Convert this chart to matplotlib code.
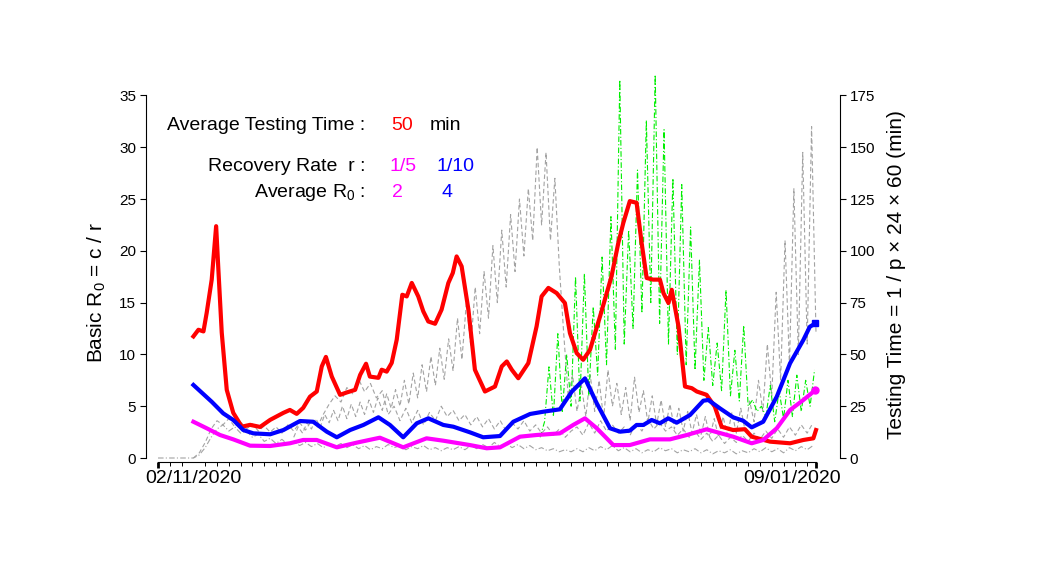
import numpy as np
import matplotlib
matplotlib.use('Agg')
import matplotlib.pyplot as plt

plt.rcParams['font.family'] = ['Liberation Sans', 'DejaVu Sans']
plt.rcParams['mathtext.fontset'] = 'custom'
plt.rcParams['mathtext.rm'] = 'Liberation Sans'
plt.rcParams['mathtext.it'] = 'Liberation Sans:italic'

# x axis = days since 01/30/2020 (02/11/2020 = day 12, 09/01/2020 = day 215)
date_days = [12, 215]
date_labels = ['02/11/2020', '09/01/2020']

# testing time of single regions (minutes), thin grey / green lines
gray_a_start, gray_a_step = 0, 2
gray_a = [0, 0, 0, 0, 0, 0, 0, 1.5,
          5, 10, 14, 16, 13, 15, 12, 13,
          10, 11.5, 8, 9.5, 7, 9, 6.5, 8, 6, 7.5, 5.5, 7, 5, 6.5, 5.5,
          7, 5, 6.5, 4.5, 6, 4, 5.5, 4.5, 6.5, 5, 6, 4, 5.5, 4.5, 6, 4, 5, 3.5, 5, 4,
          5.5, 4, 6, 4.5, 6.5, 5, 7.5, 5.5, 7, 5, 6.5, 4.5, 6, 4, 5, 3.5, 4.5, 3, 4, 3,
          4.5, 3, 5, 3.5, 5.5, 4, 6, 3.5, 5, 3, 4.5, 2.5, 4, 3, 5, 3.5, 4.5, 2.5, 4, 3,
          4.5, 2.5, 4, 2, 3.5, 2.5, 4, 2, 3.5, 2.5, 4.5, 3, 5, 3, 4.5, 2.5, 5, 3.5, 5.5, 4, 6]

gray_b_start, gray_b_step = 12, 2
gray_b = [0, 2.5, 7.5, 14, 18, 16,
          19, 15, 17.5, 14, 16.5, 13, 15.5, 12.5, 15, 12, 16, 13, 17, 13.5, 18, 15,
          21, 26, 30, 27, 34, 31, 38, 32, 36, 29, 32.5,
          21, 25, 18, 24, 17, 23, 16, 22, 18, 25, 20,
          23, 18, 21, 16, 20, 15, 19, 14, 18, 13, 17, 14, 18, 13, 16, 12, 15, 11, 14, 10, 13,
          15, 11, 17, 12, 18, 13, 16, 12, 15, 11, 17, 13, 19, 14, 17, 13, 15, 11, 14, 10,
          13, 9, 12, 8, 11, 7, 10, 7.5, 11, 8, 12, 9, 13, 9.5, 14, 10, 15, 11, 16, 12, 17]

gray_c_start, gray_c_step = 46, 1.5
gray_c = [10, 15, 12, 17, 14, 19, 15, 21, 17, 23, 18, 25, 19, 26, 20, 27, 21, 28, 22, 29, 23, 31, 24, 33, 25,
          37.5, 26, 41, 29, 45, 32, 49, 35, 53, 38, 57.5, 42,
          67.5, 47.5, 75, 54, 82.5, 60, 90,
          67.5, 102.5, 75, 110, 82.5, 117.5,
          90, 125, 97.5, 130, 105,
          150, 112.5, 147.5, 105, 135, 92.5,
          60, 30, 40, 22.5,
          35, 20, 40, 22.5, 37.5, 19, 42.5, 25, 36, 21, 34, 18, 39, 22, 32.5, 17, 30, 16, 28, 15,
          26, 14, 24, 13, 22.5, 12, 21, 11, 20, 10, 19, 10, 20, 11, 22, 12, 24, 13,
          27.5, 17.5, 37.5, 22.5, 55, 30, 80, 37.5, 105, 45, 130, 50, 147.5, 55, 160, 60]

green_start, green_step = 129.5, 1.5
green = [10, 17.5, 44, 20, 60, 22.5, 50, 25, 87.5, 27.5, 89, 30, 73, 40, 97, 45,
         116.5, 52.5, 182.5, 55, 110, 62.5, 139, 70, 163, 75, 185, 65, 158.5, 55,
         135, 50, 132, 45, 111.5, 42.5, 95.5, 37.5, 63, 35, 55.5, 32.5, 81, 30,
         52, 27.5, 64, 25, 28, 22.5, 25, 20, 35, 17.5, 32.5, 19, 37.5, 20, 40, 22.5,
         37.5, 25, 42.5]

# average testing time (minutes), red
red_days = [12.0, 13.7, 15.4, 16.5, 18.2, 19.7, 20.4, 21.6, 23.3, 25.5, 28.4, 31.2, 34.6,
            38.0, 42.5, 44.7, 47.0, 49.2, 51.5, 53.8, 55.5, 56.9, 58.9, 61.7, 63.9, 66.8,
            68.5, 70.5, 71.8, 74.7, 75.8, 77.5, 79.2, 80.9, 82.8, 84.3, 86.0, 88.2, 89.9,
            91.6, 93.9, 96.1, 98.4, 99.9, 101.2, 102.9, 105.2, 107.4, 110.8, 114.2, 116.5,
            118.2, 119.9, 122.1, 125.5, 128.3, 130.0, 132.3, 135.1, 137.9, 139.6, 141.9,
            144.1, 146.4, 149.8, 153.7, 156.0, 157.7, 159.9, 162.2, 163.9, 165.6, 167.8,
            170.1, 171.3, 173.0, 174.1, 176.4, 178.6, 180.9, 182.6, 185.9, 188.7, 191.0,
            194.9, 198.9, 201.2, 207.4, 214.2, 218.7, 222.1, 223.0]
red_min = [58.7, 61.9, 61.1, 70.1, 86.1, 111.9, 92.5, 60.5, 32.9, 21.8, 15.1, 16.0, 15.0,
           18.4, 21.8, 23.2, 21.3, 24.2, 29.6, 32.1, 44.2, 48.8, 39.3, 30.5, 31.6, 32.9,
           40.1, 45.5, 39.3, 38.7, 42.6, 41.7, 45.9, 57.1, 78.8, 78.0, 84.5, 78.0, 70.8,
           65.9, 64.8, 71.6, 84.5, 89.3, 97.3, 92.5, 71.6, 42.6, 32.1, 34.5, 44.2,
           46.6, 42.6, 38.5, 45.8, 63.5, 78.0, 82.1, 79.6, 74.8, 60.3, 50.6,
           47.4, 52.2, 68.3, 87.7, 103.8, 113.5, 124.0, 123.2, 103.8, 86.9, 86.1,
           86.1, 79.6, 74.8, 81.2, 63.5, 34.5, 33.7, 32.1, 30.5, 24.8, 15.1,
           13.5, 13.9, 10.3, 7.9, 7.1, 8.7, 9.5, 13.5]

# basic R0 for r = 1/10 (blue) and r = 1/5 (magenta)
blue_days = [12.0, 18.2, 22.1, 25.5, 28.9, 32.3, 38.0, 42.5, 48.1, 52.6, 57.2, 60.6, 65.1,
             69.6, 74.7, 78.6, 83.1, 87.7, 91.6, 96.7, 100.1, 105.7, 110.2, 115.9, 120.4,
             126.1, 130.6, 136.2, 140.2, 144.7, 148.7, 153.2, 156.6, 159.9, 162.2, 164.5,
             167.3, 170.1, 172.9, 175.8, 180.3, 184.8, 186.5, 190.4, 194.9, 198.3, 201.2,
             205.1, 209.7, 214.2, 218.7, 220.9, 222.8]
blue_r0 = [7.05, 5.43, 4.31, 3.67, 2.70, 2.38, 2.29, 2.70, 3.57, 3.50, 2.54, 2.0, 2.70,
           3.19, 3.93, 3.19, 2.0, 3.35, 3.83, 3.19, 3.02, 2.48, 2.0, 2.12, 3.50,
           4.25, 4.47, 4.70, 6.40, 7.69, 5.28, 2.87, 2.54, 2.64, 3.19, 3.19,
           3.67, 3.35, 3.83, 3.41, 4.15, 5.53, 5.60, 4.80, 3.93, 3.60, 2.96,
           3.50, 5.92, 9.14, 11.39, 12.67, 13.0]

magenta_days = [12.0, 16.5, 21.0, 25.5, 31.2, 38.0, 44.7, 49.2, 53.8, 60.6, 67.3, 75.2,
                83.1, 91.0, 96.7, 105.7, 111.4, 115.9, 122.7, 128.3, 136.2, 140.7, 144.7,
                148.7, 154.3, 159.9, 166.7, 173.5, 179.2, 185.9, 194.9, 201.2, 205.1,
                209.7, 214.2, 218.7, 222.8]
magenta_r0 = [3.50, 2.87, 2.22, 1.80, 1.19, 1.16, 1.42, 1.74, 1.74, 1.03, 1.48, 1.96,
              1.03, 1.90, 1.67, 1.25, 0.94, 1.03, 2.06, 2.22, 2.38, 3.19, 3.83,
              2.87, 1.25, 1.25, 1.80, 1.80, 2.22, 2.77, 2.06, 1.42, 1.74,
              2.87, 4.63, 5.60, 6.56]


def series_days(start, step, values):
    return start + step * np.arange(len(values))


W, H = 1042, 574
fig = plt.figure(figsize=(W / 100, H / 100), dpi=100)
ax = fig.add_axes([146 / W, 1 - 462 / H, (840 - 146) / W, (462 - 65) / H])
ax2 = ax.twinx()

grey = '#a3a3a3'
ax.plot(series_days(gray_a_start, gray_a_step, gray_a), gray_a, color=grey, lw=0.8,
        ls=(0, (5, 2, 1, 2)))
ax.plot(series_days(gray_b_start, gray_b_step, gray_b), gray_b, color=grey, lw=0.8,
        ls=(0, (4, 2.5)))
ax.plot(series_days(gray_c_start, gray_c_step, gray_c), gray_c, color=grey, lw=0.8,
        ls=(0, (4, 2.5)))
ax.plot(series_days(green_start, green_step, green), green, color='#00ee00', lw=0.8,
        ls=(0, (5, 2, 1, 2)))
ax.plot(red_days, red_min, color='#ff0000', lw=3)

ax2.plot(blue_days, blue_r0, color='#0000ff', lw=3)
ax2.plot(blue_days[-1:], blue_r0[-1:], 's', color='#0000ff', ms=5)
ax2.plot(magenta_days, magenta_r0, color='#ff00ff', lw=3)
ax2.plot(magenta_days[-1:], magenta_r0[-1:], 'o', color='#ff00ff', ms=5)

# axes ranges: right axis = 5 x left axis
ax.set_xlim(-4.07, 231.13)
ax.set_ylim(-1.93, 189.7)
ax2.set_ylim(-0.386, 37.94)

for s in ['left', 'top']:
    ax.spines[s].set_visible(False)
ax.spines['right'].set_bounds(0, 175)
ax.spines['bottom'].set_bounds(0, 223)
for s in ['right', 'top', 'bottom']:
    ax2.spines[s].set_visible(False)
ax2.spines['left'].set_bounds(0, 35)

ax.yaxis.tick_right()
ax.set_yticks(np.arange(0, 176, 25))
ax.tick_params(axis='y', length=4, width=0.8, labelsize=11, pad=3)
ax2.yaxis.tick_left()
ax2.set_yticks(np.arange(0, 36, 5))
ax2.tick_params(axis='y', length=4, width=0.8, labelsize=11, pad=3)

ax.set_xticks(date_days, date_labels)
ax.tick_params(axis='x', which='major', length=0, pad=6, labelsize=14)
ax.set_xticks(np.arange(0, 224, 4), minor=True)
ax.tick_params(axis='x', which='minor', length=3, width=0.7)
ends = ax.secondary_xaxis('bottom')
ends.set_xticks([0, 223], ['', ''])
ends.tick_params(length=4, width=2)
ends.spines['bottom'].set_visible(False)

fig.text(97 / W, 1 - 293 / H, 'Basic R$_0$ = c / r', rotation=90, ha='center',
         va='center', fontsize=15)
fig.text(897 / W, 1 - 275 / H, 'Testing Time = 1 / p \u00d7 24 \u00d7 60 (min)',
         rotation=90, ha='center', va='center', fontsize=15)

fs = 14
def note(x, y, s, color='black', ha='center'):
    fig.text(x / W, 1 - y / H, s, color=color, ha=ha, va='baseline', fontsize=fs)

note(365, 130, 'Average Testing Time :', ha='right')
note(402, 130, '50', color='#ff0000')
note(445, 130, 'min')
note(365, 171, 'Recovery Rate  r :', ha='right')
note(403, 171, '1/5', color='#ff00ff')
note(456, 171, '1/10', color='#0000ff')
note(365, 197, 'Average R$_0$ :', ha='right')
note(397, 197, '2', color='#ff00ff')
note(447, 197, '4', color='#0000ff')

fig.savefig('out.png', dpi=100)
